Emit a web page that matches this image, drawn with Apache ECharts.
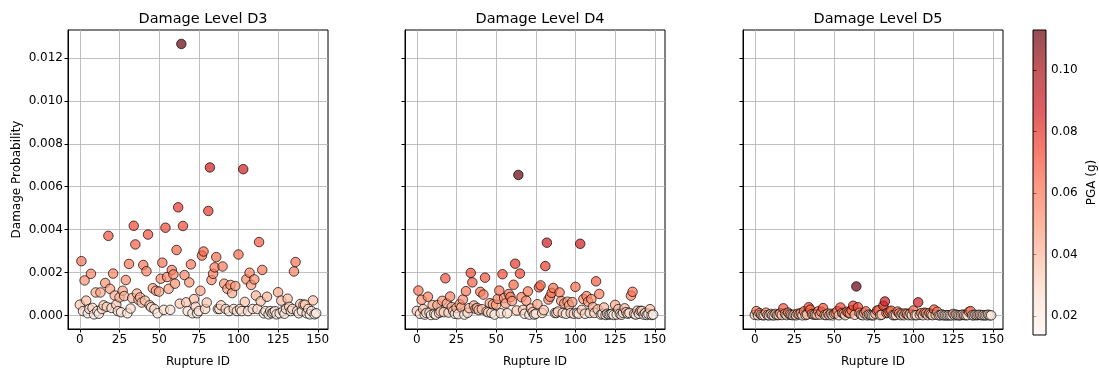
<!DOCTYPE html>
<html>
<head>
<meta charset="utf-8">
<script src="https://cdn.jsdelivr.net/npm/echarts@6/dist/echarts.min.js"></script>
<style>
html,body{margin:0;padding:0;background:#fff}
#chart{width:1099px;height:373px}
</style>
</head>
<body>
<div id="chart"></div>
<script>
// Rupture IDs 0..149
const ruptureIds = Array.from({length: 150}, (_, i) => i);

// Peak ground acceleration per rupture (g)
const pga = [
  0.034,0.061,0.025,0.052,0.038,0.021,0.028,0.056,0.029,0.018,
  0.045,0.025,0.020,0.045,0.028,0.033,0.051,0.031,0.070,0.047,
  0.029,0.056,0.042,0.034,0.025,0.041,0.023,0.046,0.042,0.053,
  0.021,0.060,0.029,0.040,0.073,0.067,0.044,0.039,0.041,0.036,
  0.060,0.038,0.057,0.070,0.033,0.030,0.048,0.028,0.046,0.021,
  0.046,0.053,0.061,0.027,0.072,0.054,0.047,0.027,0.058,0.055,
  0.051,0.065,0.078,0.035,0.113,0.073,0.055,0.036,0.025,0.051,
  0.060,0.021,0.039,0.031,0.021,0.025,0.046,0.063,0.064,0.028,
  0.036,0.077,0.088,0.053,0.056,0.059,0.063,0.028,0.028,0.033,
  0.059,0.051,0.028,0.047,0.025,0.050,0.045,0.028,0.049,0.025,
  0.063,0.028,0.025,0.087,0.037,0.053,0.025,0.056,0.050,0.028,
  0.053,0.042,0.028,0.068,0.037,0.058,0.021,0.025,0.041,0.018,
  0.025,0.021,0.023,0.025,0.018,0.045,0.021,0.038,0.025,0.020,
  0.028,0.040,0.031,0.025,0.028,0.057,0.061,0.025,0.021,0.035,
  0.025,0.034,0.034,0.021,0.028,0.018,0.025,0.038,0.014,0.021
];

// Damage probability, level D3
const damageD3 = [
  0.00050,0.00253,0.00020,0.00163,0.00069,0.00010,0.00030,0.00194,0.00035,0.00005,
  0.00107,0.00020,0.00008,0.00107,0.00030,0.00047,0.00151,0.00040,0.00371,0.00124,
  0.00035,0.00195,0.00093,0.00050,0.00020,0.00084,0.00015,0.00115,0.00090,0.00165,
  0.00010,0.00240,0.00032,0.00081,0.00418,0.00331,0.00102,0.00073,0.00084,0.00060,
  0.00235,0.00069,0.00206,0.00377,0.00047,0.00038,0.00127,0.00030,0.00115,0.00010,
  0.00111,0.00171,0.00246,0.00026,0.00409,0.00179,0.00124,0.00026,0.00212,0.00191,
  0.00148,0.00305,0.00504,0.00055,0.01266,0.00417,0.00188,0.00061,0.00020,0.00154,
  0.00238,0.00010,0.00076,0.00040,0.00010,0.00020,0.00115,0.00279,0.00298,0.00030,
  0.00060,0.00487,0.00690,0.00165,0.00194,0.00224,0.00272,0.00030,0.00030,0.00047,
  0.00228,0.00148,0.00030,0.00124,0.00020,0.00142,0.00104,0.00030,0.00137,0.00020,
  0.00284,0.00030,0.00020,0.00682,0.00063,0.00168,0.00020,0.00199,0.00142,0.00030,
  0.00168,0.00093,0.00030,0.00342,0.00066,0.00212,0.00010,0.00020,0.00087,0.00005,
  0.00020,0.00010,0.00015,0.00020,0.00005,0.00108,0.00010,0.00069,0.00020,0.00008,
  0.00030,0.00078,0.00040,0.00020,0.00030,0.00205,0.00249,0.00020,0.00010,0.00053,
  0.00020,0.00050,0.00050,0.00010,0.00030,0.00005,0.00020,0.00070,0.00005,0.00010
];

// Damage probability, level D4
const damageD4 = [
  0.000210,0.001160,0.000076,0.000730,0.000290,0.000038,0.000114,0.000870,0.000133,0.000019,
  0.000480,0.000076,0.000030,0.000480,0.000114,0.000180,0.000680,0.000152,0.001730,0.000560,
  0.000133,0.000880,0.000390,0.000210,0.000076,0.000350,0.000057,0.000520,0.000380,0.000740,
  0.000038,0.001130,0.000122,0.000340,0.001980,0.001540,0.000460,0.000310,0.000350,0.000250,
  0.001100,0.000290,0.000970,0.001760,0.000180,0.000144,0.000570,0.000114,0.000520,0.000038,
  0.000500,0.000770,0.001160,0.000100,0.001920,0.000810,0.000560,0.000100,0.001000,0.000860,
  0.000670,0.001430,0.002410,0.000230,0.006550,0.001950,0.000850,0.000260,0.000076,0.000690,
  0.001120,0.000038,0.000320,0.000152,0.000038,0.000076,0.000520,0.001310,0.001400,0.000114,
  0.000250,0.002300,0.003390,0.000740,0.000870,0.001050,0.001280,0.000114,0.000114,0.000180,
  0.001070,0.000670,0.000114,0.000560,0.000076,0.000640,0.000470,0.000114,0.000620,0.000076,
  0.001330,0.000114,0.000076,0.003340,0.000260,0.000760,0.000076,0.000900,0.000640,0.000114,
  0.000760,0.000390,0.000114,0.001590,0.000280,0.001000,0.000038,0.000076,0.000370,0.000019,
  0.000076,0.000038,0.000057,0.000076,0.000019,0.000490,0.000038,0.000290,0.000076,0.000030,
  0.000114,0.000330,0.000152,0.000076,0.000114,0.000920,0.001100,0.000076,0.000038,0.000220,
  0.000076,0.000210,0.000210,0.000038,0.000114,0.000019,0.000076,0.000290,0.000019,0.000038
];

// Damage probability, level D5
const damageD5 = [
  0.000025,0.000200,0.000008,0.000106,0.000035,0.000004,0.000012,0.000126,0.000014,0.000002,
  0.000070,0.000008,0.000003,0.000070,0.000012,0.000019,0.000098,0.000016,0.000330,0.000080,
  0.000014,0.000127,0.000047,0.000025,0.000008,0.000042,0.000006,0.000075,0.000045,0.000107,
  0.000004,0.000190,0.000013,0.000040,0.000380,0.000270,0.000066,0.000037,0.000042,0.000030,
  0.000190,0.000035,0.000165,0.000340,0.000019,0.000015,0.000083,0.000012,0.000075,0.000004,
  0.000072,0.000111,0.000200,0.000010,0.000370,0.000116,0.000080,0.000010,0.000170,0.000124,
  0.000096,0.000240,0.000450,0.000028,0.001350,0.000380,0.000122,0.000030,0.000008,0.000100,
  0.000190,0.000004,0.000038,0.000016,0.000004,0.000008,0.000075,0.000220,0.000240,0.000012,
  0.000030,0.000450,0.000650,0.000107,0.000126,0.000180,0.000220,0.000012,0.000012,0.000019,
  0.000180,0.000096,0.000012,0.000080,0.000008,0.000092,0.000068,0.000012,0.000089,0.000008,
  0.000230,0.000012,0.000008,0.000610,0.000032,0.000109,0.000008,0.000129,0.000092,0.000012,
  0.000109,0.000047,0.000012,0.000270,0.000033,0.000170,0.000004,0.000008,0.000044,0.000002,
  0.000008,0.000004,0.000006,0.000008,0.000002,0.000070,0.000004,0.000035,0.000008,0.000003,
  0.000012,0.000039,0.000016,0.000008,0.000012,0.000164,0.000200,0.000008,0.000004,0.000027,
  0.000008,0.000025,0.000025,0.000004,0.000012,0.000002,0.000008,0.000035,0.000002,0.000004
];

const panelTitles = ['Damage Level D3', 'Damage Level D4', 'Damage Level D5'];
const panelValues = [damageD3, damageD4, damageD5];
const xTicks = [0, 25, 50, 75, 100, 125, 150];
const yTicks = [0, 0.002, 0.004, 0.006, 0.008, 0.010, 0.012];
const pgaTicks = [0.02, 0.04, 0.06, 0.08, 0.10];
const pgaMin = 0.0138, pgaMax = 0.113;

// "Reds" colour ramp drawn at 70 % opacity
const redsRamp = ['#fff5f0','#fee0d2','#fcbba1','#fc9272','#fb6a4a','#ef3b2c','#cb181d','#a50f15','#67000d'];
const ALPHA = 0.7;
function withAlpha(hex) {
  const r = parseInt(hex.slice(1, 3), 16), g = parseInt(hex.slice(3, 5), 16), b = parseInt(hex.slice(5, 7), 16);
  return `rgba(${r},${g},${b},${ALPHA})`;
}
const redsRgba = redsRamp.map(withAlpha);

const FONT = 'DejaVu Sans';
const INK = '#000';
const panelLefts = [68, 405, 743];
const panelW = 260, panelTop = 30, panelH = 305;

const grids = panelLefts.map(l => ({
  left: l, top: panelTop, width: panelW, height: panelH,
  show: true, borderColor: INK, borderWidth: 1, backgroundColor: 'transparent'
}));
grids.push({left: 1033, top: panelTop, width: 14, height: panelH});

const xAxes = panelLefts.map((_, i) => ({
  type: 'value', gridIndex: i, min: -7.45, max: 156.45,
  name: 'Rupture ID', nameLocation: 'middle', nameGap: 27,
  nameTextStyle: {fontFamily: FONT, fontSize: 12, color: INK},
  axisLine: {show: true, onZero: false, lineStyle: {color: INK, width: 1}},
  axisTick: {show: true, customValues: xTicks, length: 3.5, lineStyle: {color: INK, width: 1}},
  axisLabel: {customValues: xTicks, fontFamily: FONT, fontSize: 12, color: INK, margin: 5},
  splitLine: {show: true, lineStyle: {color: '#b0b0b0', width: 0.8}}
}));
xAxes.push({type: 'value', gridIndex: 3, min: 0, max: 1, show: false});

const yAxes = panelLefts.map((_, i) => ({
  type: 'value', gridIndex: i, min: -0.000634, max: 0.01331,
  name: i === 0 ? 'Damage Probability' : '', nameLocation: 'middle', nameGap: 45,
  nameTextStyle: {fontFamily: FONT, fontSize: 12, color: INK},
  axisLine: {show: true, onZero: false, lineStyle: {color: INK, width: 1}},
  axisTick: {show: true, customValues: yTicks, length: 3.5, lineStyle: {color: INK, width: 1}},
  axisLabel: {show: i === 0, customValues: yTicks, fontFamily: FONT, fontSize: 12, color: INK, margin: 5,
              formatter: v => v.toFixed(3)},
  splitLine: {show: true, lineStyle: {color: '#b0b0b0', width: 0.8}}
}));
yAxes.push({
  type: 'value', gridIndex: 3, position: 'right', min: pgaMin, max: pgaMax,
  name: 'PGA (g)', nameLocation: 'middle', nameRotate: 90, nameGap: 40,
  nameTextStyle: {fontFamily: FONT, fontSize: 12, color: INK},
  axisLine: {show: false},
  axisTick: {show: true, customValues: pgaTicks, length: 3.5, lineStyle: {color: INK, width: 1}},
  axisLabel: {customValues: pgaTicks, fontFamily: FONT, fontSize: 12, color: INK, margin: 5,
              formatter: v => v.toFixed(2)},
  splitLine: {show: false}
});

const scatterSeries = panelValues.map((vals, i) => ({
  type: 'scatter', xAxisIndex: i, yAxisIndex: i,
  data: ruptureIds.map((id, k) => [id, vals[k], pga[k]]),
  symbol: 'circle', symbolSize: 9.5,
  itemStyle: {borderColor: 'rgba(0,0,0,0.7)', borderWidth: 1, opacity: 1},
  emphasis: {disabled: true}
}));

// Colour bar drawn as one rectangle on its own PGA axis
const colorbarSeries = {
  type: 'custom', xAxisIndex: 3, yAxisIndex: 3, silent: true,
  data: [[0, pgaMin, 1, pgaMax]],
  renderItem: (params, api) => {
    const p0 = api.coord([api.value(0), api.value(1)]);
    const p1 = api.coord([api.value(2), api.value(3)]);
    return {
      type: 'rect',
      shape: {x: p0[0], y: p1[1], width: p1[0] - p0[0], height: p0[1] - p1[1]},
      style: {
        fill: new echarts.graphic.LinearGradient(0, 1, 0, 0,
          redsRgba.map((c, k) => ({offset: k / (redsRgba.length - 1), color: c}))),
        stroke: INK, lineWidth: 1
      }
    };
  }
};

const chart = echarts.init(document.getElementById('chart'), null, {renderer: 'canvas'});
chart.setOption({
  animation: false,
  backgroundColor: '#fff',
  title: panelTitles.map((t, i) => ({
    text: t, left: panelLefts[i] + panelW / 2, top: 7, textAlign: 'center',
    textStyle: {fontFamily: FONT, fontSize: 14.5, fontWeight: 'normal', color: INK}
  })),
  grid: grids,
  xAxis: xAxes,
  yAxis: yAxes,
  visualMap: {
    type: 'continuous', show: false, seriesIndex: [0, 1, 2], dimension: 2,
    min: pgaMin, max: pgaMax, inRange: {color: redsRgba}
  },
  series: [...scatterSeries, colorbarSeries]
});
</script>
</body>
</html>
